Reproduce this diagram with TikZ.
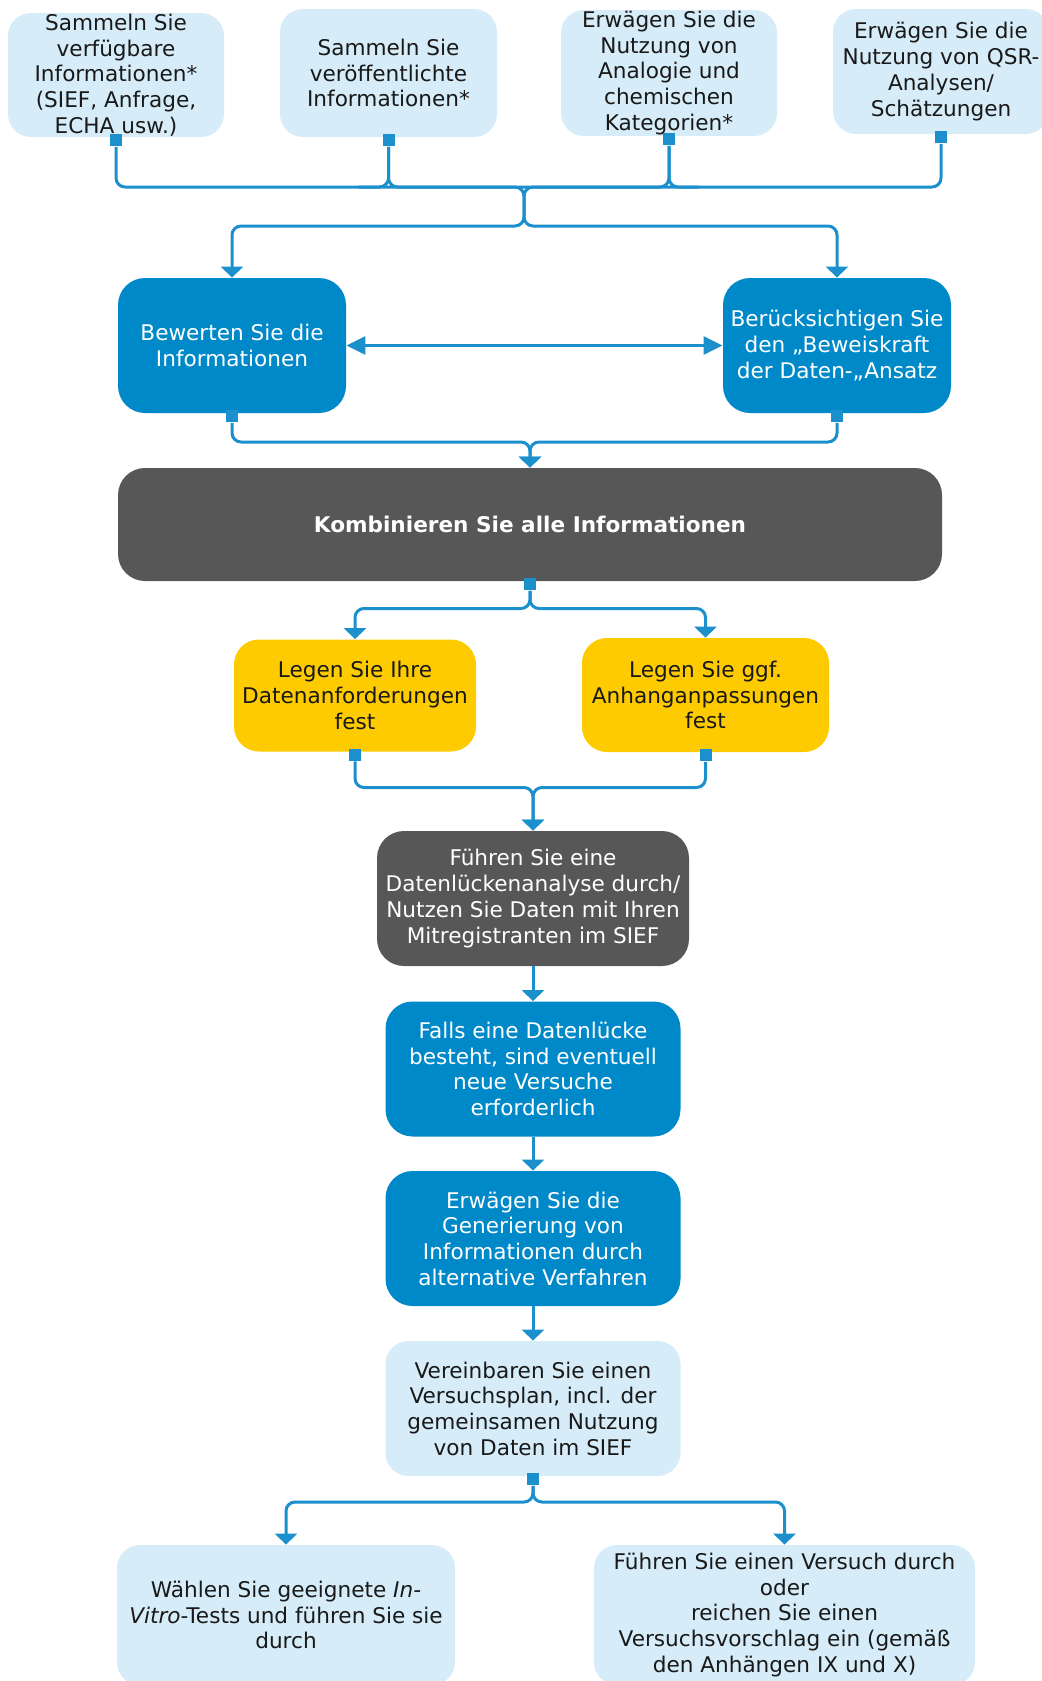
\documentclass[tikz,border=0pt]{standalone}
\usepackage{fontspec}
\setmainfont{DejaVu Sans}
\usetikzlibrary{arrows.meta,calc}
\definecolor{paleblue}{HTML}{D6ECF8}
\definecolor{midblue}{HTML}{0089C8}
\definecolor{darkgrey}{HTML}{575757}
\definecolor{gold}{HTML}{FDCB00}
\definecolor{linkblue}{HTML}{1B90CD}

\begin{document}
\begin{tikzpicture}[x=0.5pt, y=-0.5pt,
	box/.style={rounded corners=12.5pt, align=center, inner sep=0pt,
		font=\fontsize{10.8}{12.85}\selectfont},
	palebox/.style={box, fill=paleblue, text=black!90, rounded corners=11.5pt},
	bluebox/.style={box, fill=midblue, text=white, rounded corners=13.5pt},
	greybox/.style={box, fill=darkgrey, text=white, rounded corners=13.5pt},
	goldbox/.style={box, fill=gold, text=black!90},
	port/.style={fill=linkblue, minimum size=6pt, inner sep=0pt},
	link/.style={draw=linkblue, line width=1.5pt, rounded corners=4.5pt},
	arr/.style={link, -{Triangle[width=11pt,length=5.5pt]}}]
	\useasboundingbox (0,0) rectangle (1041,1681);
	
	% Sources
	\node[palebox, minimum width=108pt, minimum height=62pt] (s1) at (116,75)
		{Sammeln Sie\\verfügbare\\Informationen*\\(SIEF, Anfrage,\\ECHA usw.)};
	\node[palebox, minimum width=108.5pt, minimum height=64pt] (s2) at (388.5,73)
		{Sammeln Sie\\veröffentlichte\\Informationen*};
	\node[palebox, minimum width=108pt, minimum height=63pt] (s3) at (669,73)
		{Erwägen Sie die\\Nutzung von\\Analogie und\\chemischen\\Kategorien*};
	\node[palebox, minimum width=108pt, minimum height=62.5pt] (s4) at (941,71.5)
		{Erwägen Sie die\\Nutzung von QSR-\\Analysen/\\Schätzungen};
	
	% Evaluation
	\node[bluebox, minimum width=114pt, minimum height=67.5pt] (bew) at (232,345.5)
		{Bewerten Sie die\\Informationen};
	\node[bluebox, minimum width=114pt, minimum height=67.5pt] (ber) at (837,345.5)
		{Berücksichtigen Sie\\den „Beweiskraft\\der Daten-„Ansatz};
	
	% Combine
	\node[greybox, minimum width=412pt, minimum height=56.5pt] (komb) at (530,524.5)
		{\bfseries Kombinieren Sie alle Informationen};
	
	% Requirements
	\node[goldbox, minimum width=121pt, minimum height=56pt] (leg1) at (355,695.5)
		{Legen Sie Ihre\\Datenanforderungen\\fest};
	\node[goldbox, minimum width=123.5pt, minimum height=57pt] (leg2) at (705.5,695)
		{Legen Sie ggf.\\Anhanganpassungen\\fest};
	
	% Gap analysis and testing
	\node[greybox, minimum width=156pt, minimum height=67.5pt] (luck) at (533,898.5)
		{Führen Sie eine\\Datenlückenanalyse durch/\\Nutzen Sie Daten mit Ihren\\Mitregistranten im SIEF};
	\node[bluebox, minimum width=147.5pt, minimum height=67.5pt] (falls) at (533,1069)
		{Falls eine Datenlücke\\besteht, sind eventuell\\neue Versuche\\erforderlich};
	\node[bluebox, minimum width=147.5pt, minimum height=67.5pt] (gen) at (533,1238.5)
		{Erwägen Sie die\\Generierung von\\Informationen durch\\alternative Verfahren};
	\node[palebox, minimum width=147.5pt, minimum height=67.5pt] (vere) at (533,1408.5)
		{Vereinbaren Sie einen\\Versuchsplan, incl. der\\gemeinsamen Nutzung\\von Daten im SIEF};
	\node[palebox, minimum width=169pt, minimum height=70pt] (wahl) at (286,1615)
		{Wählen Sie geeignete \textit{In-}\\\textit{Vitro}-Tests und führen Sie sie\\durch};
	\node[palebox, minimum width=190.5pt, minimum height=70pt] (vers) at (784.5,1615)
		{Führen Sie einen Versuch durch\\oder\\reichen Sie einen\\Versuchsvorschlag ein (gemäß\\den Anhängen IX und X)};
	
	% Ports
	\foreach \n in {1,...,4}
		\node[port] (p\n) at ([yshift=-1.5pt]s\n.south) {};
	\node[port] (q1) at ([yshift=-1.5pt]bew.south) {};
	\node[port] (q2) at ([yshift=-1.5pt]ber.south) {};
	\node[port] (r0) at ([yshift=-1.5pt]komb.south) {};
	\node[port] (u1) at ([yshift=-1.5pt]leg1.south) {};
	\node[port] (u2) at ([yshift=-1.5pt]leg2.south) {};
	\node[port] (v0) at ([yshift=-1.5pt]vere.south) {};
	
	% Junctions
	\coordinate (j1) at (524,187);
	\coordinate (j2) at (524,226);
	\coordinate (j3) at (530,442);
	\coordinate (j4) at (530,608.5);
	\coordinate (j5) at (533,787.5);
	\coordinate (j6) at (533,1502);
	
	% Top bus
	\draw[arr] (p1) |- (j1) -- (j2) -| (bew);
	\draw[arr] (p4) |- (j1) -- (j2) -| (ber);
	\draw[link] (p2) |- ($(p2 |- j1)+(-30,0)$);
	\draw[link] (p2) |- (j1);
	\draw[link] (p3) |- (j1);
	\draw[link] (p3) |- ($(p3 |- j1)+(30,0)$);
	
	\draw[link, {Triangle[width=9pt,length=9.5pt]}-{Triangle[width=9pt,length=9.5pt]}] (bew) -- (ber);
	
	\draw[arr] (q1) |- (j3) -- (komb);
	\draw[arr] (q2) |- (j3) -- (komb);
	
	\draw[arr] (r0) -- (j4) -| (leg1);
	\draw[arr] (r0) -- (j4) -| (leg2);
	
	\draw[arr] (u1) |- (j5) -- (luck);
	\draw[arr] (u2) |- (j5) -- (luck);
	
	\draw[arr] (luck) -- (falls);
	\draw[arr] (falls) -- (gen);
	\draw[arr] (gen) -- (vere);
	
	\draw[arr] (v0) -- (j6) -| (wahl);
	\draw[arr] (v0) -- (j6) -| (vers);
\end{tikzpicture}
\end{document}
